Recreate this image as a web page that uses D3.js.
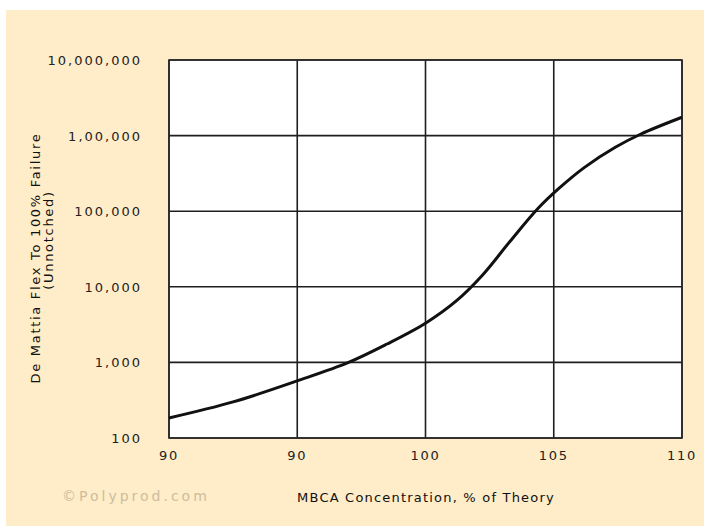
<!DOCTYPE html>
<html>
<head>
<meta charset="utf-8">
<script src="https://cdn.jsdelivr.net/npm/d3@7"></script>
<style>
  body { margin: 0; background: #fff; }
  svg { display: block; }
</style>
</head>
<body>
<svg></svg>
<script>
// MBCA concentration (% of theory) vs De Mattia flex cycles
var concentration = [90, 92.5, 95, 97, 98.5, 100, 101.2, 102.2, 103.3, 104.4, 105.2, 106.2, 107.4, 108.4, 110];
var flexCycles = [184, 300, 570, 1000, 1750, 3300, 6500, 14000, 40000, 110000, 200000, 380000, 700000, 1050000, 1750000];

// tick positions and the labels as printed on the original (typos kept)
var xTicks = [90, 95, 100, 105, 110];
var xTickLabels = ["90", "90", "100", "105", "110"];
var yTicks = [100, 1000, 10000, 100000, 1000000, 10000000];
var yTickLabels = ["100", "1,000", "10,000", "100,000", "1,00,000", "10,000,000"];

var svgWidth = 704, svgHeight = 526;
var svg = d3.select("svg")
    .attr("width", svgWidth)
    .attr("height", svgHeight);

// beige panel
svg.append("rect")
    .attr("x", 6).attr("y", 10)
    .attr("width", svgWidth - 6).attr("height", svgHeight - 10)
    .attr("fill", "#ffecc8");

var plotLeft = 169, plotRight = 682, plotTop = 60, plotBottom = 438;

var xScale = d3.scaleLinear().domain([90, 110]).range([plotLeft, plotRight]),
    yScale = d3.scaleLog().domain([100, 10000000]).range([plotBottom, plotTop]);

// plot area
svg.append("rect")
    .attr("x", plotLeft).attr("y", plotTop)
    .attr("width", plotRight - plotLeft).attr("height", plotBottom - plotTop)
    .attr("fill", "#fff");

var font = "DejaVu Sans, Verdana, sans-serif";

// grid
svg.append("g").selectAll("line")
    .data(xTicks)
    .enter().append("line")
    .attr("x1", function (d) { return xScale(d); })
    .attr("x2", function (d) { return xScale(d); })
    .attr("y1", plotTop).attr("y2", plotBottom)
    .style("stroke", "#1e1e1e")
    .style("stroke-width", 1.6);

svg.append("g").selectAll("line")
    .data(yTicks)
    .enter().append("line")
    .attr("x1", plotLeft).attr("x2", plotRight)
    .attr("y1", function (d) { return yScale(d); })
    .attr("y2", function (d) { return yScale(d); })
    .style("stroke", "#1e1e1e")
    .style("stroke-width", 1.6);

svg.append("rect")
    .attr("x", plotLeft).attr("y", plotTop)
    .attr("width", plotRight - plotLeft).attr("height", plotBottom - plotTop)
    .attr("fill", "none")
    .style("stroke", "#2a2a2a")
    .style("stroke-width", 1.6);

// tick labels
svg.append("g").selectAll("text")
    .data(xTicks)
    .enter().append("text")
    .attr("x", function (d) { return xScale(d); })
    .attr("y", 460)
    .attr("text-anchor", "middle")
    .style("font-family", font)
    .style("font-size", "13px")
    .style("letter-spacing", "1.8px")
    .style("fill", "#222")
    .text(function (d, i) { return xTickLabels[i]; });

svg.append("g").selectAll("text")
    .data(yTicks)
    .enter().append("text")
    .attr("x", 142)
    .attr("y", function (d) { return yScale(d) + 5; })
    .attr("text-anchor", "end")
    .style("font-family", font)
    .style("font-size", "13px")
    .style("letter-spacing", "2px")
    .style("fill", "#222")
    .text(function (d, i) { return yTickLabels[i]; });

// axis titles
svg.append("text")
    .attr("x", 426)
    .attr("y", 502)
    .attr("text-anchor", "middle")
    .style("font-family", font)
    .style("font-size", "13px")
    .style("letter-spacing", "1.2px")
    .style("fill", "#111")
    .text("MBCA Concentration, % of Theory");

svg.append("text")
    .attr("text-anchor", "middle")
    .attr("transform", "translate(40,258)rotate(-90)")
    .style("font-family", font)
    .style("font-size", "13px")
    .style("letter-spacing", "1.7px")
    .style("fill", "#111")
    .text("De Mattia Flex To 100% Failure");

svg.append("text")
    .attr("text-anchor", "middle")
    .attr("transform", "translate(53,240)rotate(-90)")
    .style("font-family", font)
    .style("font-size", "13px")
    .style("letter-spacing", "1.7px")
    .style("fill", "#111")
    .text("(Unnotched)");

// watermark
svg.append("text")
    .attr("x", 62)
    .attr("y", 501)
    .style("font-family", font)
    .style("font-size", "14px")
    .style("letter-spacing", "3px")
    .style("fill", "#cdbd9c")
    .text("\u00a9Polyprod.com");

// curve
var data = concentration.map(function (c, i) { return [c, flexCycles[i]]; });
var line = d3.line()
    .x(function (d) { return xScale(d[0]); })
    .y(function (d) { return yScale(d[1]); })
    .curve(d3.curveCatmullRom.alpha(0.5));

svg.append("path")
    .datum(data)
    .attr("d", line)
    .style("fill", "none")
    .style("stroke", "#111")
    .style("stroke-width", 3);
</script>
</body>
</html>
